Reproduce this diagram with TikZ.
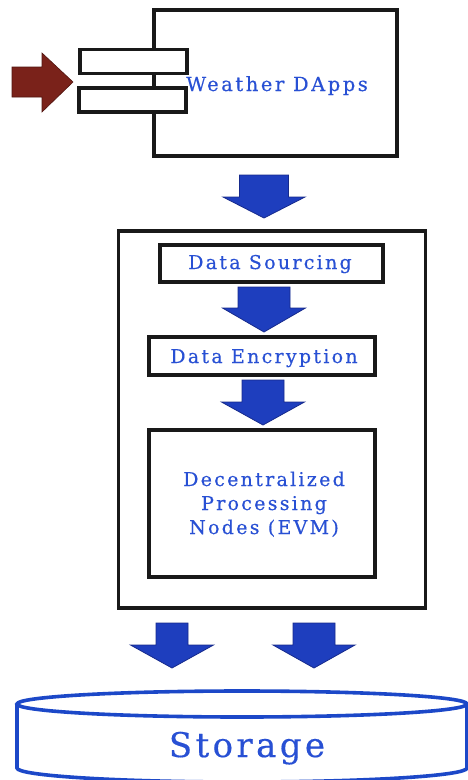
\documentclass[tikz,border=0pt]{standalone}
\usepackage{fontspec}
\setmainfont{DejaVu Serif}
\usetikzlibrary{calc}
\definecolor{txtblue}{RGB}{40,80,212}
\definecolor{arrblue}{RGB}{30,62,190}
\definecolor{arredge}{RGB}{22,42,140}
\definecolor{arrred}{RGB}{122,34,26}
\definecolor{rededge}{RGB}{80,20,15}
\definecolor{cylblue}{RGB}{28,72,200}
\tikzset{
  box/.style={draw=black!90, line width=3.2pt, fill=white, inner sep=0pt},
  lbl/.style={text=txtblue, inner sep=0pt, font=\fontsize{19}{24}\selectfont\addfontfeature{LetterSpace=12,FakeBold=0.4}},
  blockarr/.style={fill=arrblue, draw=arredge, line width=0.8pt, line join=miter},
}
% down block arrow: #1 = centre x, #2 = top y, #3 = shaft half width, #4 = head half width, #5 = shaft length, #6 = head length
\newcommand\downarrowblk[6]{%
  \path[blockarr] (#1-#3,#2) -- (#1+#3,#2) -- (#1+#3,#2+#5) -- (#1+#4,#2+#5) -- (#1,#2+#5+#6) -- (#1-#4,#2+#5) -- (#1-#3,#2+#5) -- cycle;}
\begin{document}
\begin{tikzpicture}[x=1pt,y=-1pt]
\useasboundingbox (0,0) rectangle (467,780);
% Weather DApps component
\node[box, minimum width=243pt, minimum height=146pt] (dapp) at (275.5,83) {};
\node[box, minimum width=107pt, minimum height=24pt] (tab1) at (133.5,61.5) {};
\node[box, minimum width=107pt, minimum height=24pt] (tab2) at (132.5,100) {};
\node[lbl, anchor=base, font=\fontsize{19.5}{24}\selectfont\addfontfeature{LetterSpace=13,FakeBold=0.4}] (dapptxt) at (277,91) {Weather DApps};
% red input arrow
\path[fill=arrred, draw=rededge, line width=0.6pt] (12,67) -- (42,67) -- (42,53) -- (73,82) -- (42,112) -- (42,97) -- (12,97) -- cycle;
\coordinate (redtip) at (73,82);
% arrow to platform
\downarrowblk{264}{175}{24.5}{41}{22}{21}
% outer platform box
\node[box, fill=none, minimum width=307pt, minimum height=377pt] (platform) at (272,419.5) {};
% inner steps
\node[box, minimum width=223pt, minimum height=37pt] (src) at (271.5,263.5) {};
\node[lbl, anchor=base] (srctxt) at (270,269) {Data Sourcing};
\downarrowblk{264}{287}{26}{41.5}{21}{24}
\node[box, minimum width=226pt, minimum height=38pt] (enc) at (262,356) {};
\node[lbl, anchor=base] (enctxt) at (264,363) {Data Encryption};
\downarrowblk{263}{380}{21}{41.5}{22}{23}
\node[box, minimum width=226pt, minimum height=147pt] (proc) at (262,503.5) {};
\node[lbl, align=center, anchor=base] (proctxt) at (264,534) {Decentralized\\Processing\\Nodes (EVM)};
% arrows to storage
\downarrowblk{172}{623}{16}{41.5}{22}{23}
\downarrowblk{314}{623}{21}{41}{22}{23}
% storage cylinder
\path[fill=white, draw=cylblue, line width=3.6pt] (17,704) -- (17,768) arc[start angle=180, end angle=0, x radius=225, y radius=14] -- (467,704);
\path[fill=white, draw=cylblue, line width=3.6pt] (242,704) ellipse[x radius=225, y radius=13];
\node[anchor=base, text=txtblue, inner sep=0pt, font=\fontsize{34}{40}\selectfont\addfontfeature{LetterSpace=10,FakeBold=0.4}] (storage) at (247,757) {Storage};
\end{tikzpicture}
\end{document}
